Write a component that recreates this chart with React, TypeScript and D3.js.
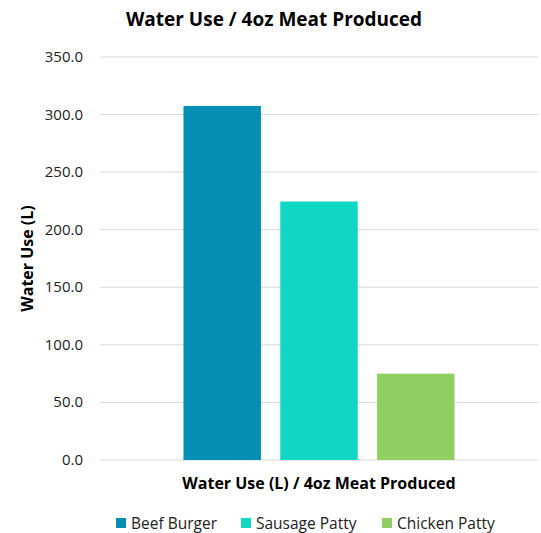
import React from 'react';
import * as d3 from 'd3';

const categories = ['Water Use (L) / 4oz Meat Produced'];
const seriesNames = ['Beef Burger', 'Sausage Patty', 'Chicken Patty'];
const seriesValues = [307.5, 224.5, 75.0];
const seriesColors = ['#058fb4', '#10d6c4', '#8fcf61'];
const yTicks = [0, 50, 100, 150, 200, 250, 300, 350];

const W = 541, H = 533;
const margin = { left: 100, right: 3, top: 57, bottom: 73 };
const font = '"Open Sans", sans-serif';

export default function App() {
    const x0 = d3.scaleBand<string>()
        .domain(categories)
        .range([margin.left, W - margin.right])
        .paddingInner(0)
        .paddingOuter(0.308);
    const x1 = d3.scaleBand<string>()
        .domain(seriesNames)
        .range([0, x0.bandwidth()])
        .paddingInner(0.2)
        .paddingOuter(0);
    const y = d3.scaleLinear()
        .domain([0, 350])
        .range([H - margin.bottom, margin.top]);
    const fmt = d3.format('.1f');
    const plotCx = (margin.left + W - margin.right) / 2;

    // legend layout
    const legendItems = [
        { x: 116 }, { x: 241 }, { x: 382 }
    ];

    return (
        <svg width={W} height={H} style={{ position: 'absolute', left: 0, top: 0, fontFamily: font }}>
            <rect width={W} height={H} fill="#fff" />
            <text x={274} y={26} textAnchor="middle" fontSize={19} fontWeight="bold" fill="#000">
                Water Use / 4oz Meat Produced
            </text>
            {yTicks.map(t => (
                <g key={t}>
                    <line x1={margin.left} x2={W - margin.right} y1={y(t)} y2={y(t)} stroke="#d9d9d9" strokeWidth={1} />
                    <text x={83} y={y(t) + 5} textAnchor="end" fontSize={15} fill="#222">{fmt(t)}</text>
                </g>
            ))}
            {categories.map(c => (
                <g key={c}>
                    {seriesNames.map((s, i) => (
                        <rect key={s}
                            x={(x0(c) ?? 0) + (x1(s) ?? 0)}
                            y={y(seriesValues[i])}
                            width={x1.bandwidth()}
                            height={y(0) - y(seriesValues[i])}
                            fill={seriesColors[i]} />
                    ))}
                    <text x={plotCx} y={489} textAnchor="middle" fontSize={16} fontWeight="bold" fill="#000">{c}</text>
                </g>
            ))}
            <text transform={`translate(33,${(margin.top + H - margin.bottom) / 2}) rotate(-90)`} textAnchor="middle"
                fontSize={16} fontWeight="bold" fill="#000">Water Use (L)</text>
            {seriesNames.map((s, i) => (
                <g key={s} transform={`translate(${legendItems[i].x},518)`}>
                    <rect x={0} y={0} width={10} height={10} fill={seriesColors[i]} />
                    <text x={15} y={10.5} fontSize={15.5} fill="#222">{s}</text>
                </g>
            ))}
        </svg>
    );
}
